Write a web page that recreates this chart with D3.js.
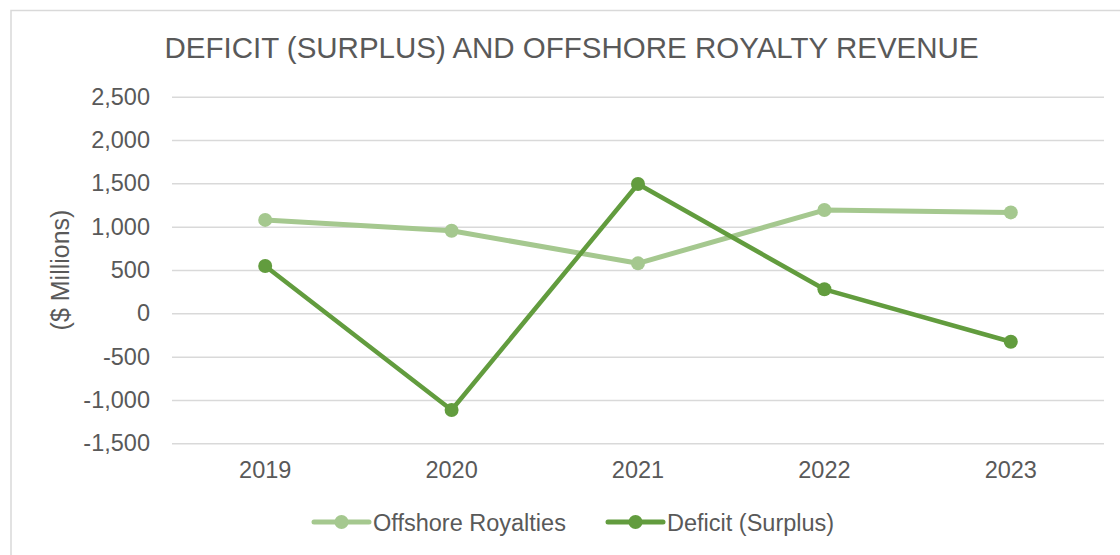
<!DOCTYPE html>
<html>
<head>
<meta charset="utf-8">
<script src="https://cdn.jsdelivr.net/npm/d3@7"></script>
<style>
  html, body { margin: 0; padding: 0; background: #fff; }
  svg { display: block; font-family: "Liberation Sans", Arial, sans-serif; }
</style>
</head>
<body>
<div id="chart"></div>
<script>
const years = ["2019", "2020", "2021", "2022", "2023"];
const offshoreRoyalties = [1078, 953, 577, 1192, 1165];
const deficitSurplus = [546, -1116, 1492, 277, -328];
const yTicks = [-1500, -1000, -500, 0, 500, 1000, 1500, 2000, 2500];
const seriesNames = ["Offshore Royalties", "Deficit (Surplus)"];
const seriesColors = ["#a5c88f", "#629c3e"];

const W = 1120, H = 555;
const margin = { top: 96.7, right: 16, bottom: 111.7, left: 172 };
const width = W - margin.left - margin.right;
const height = H - margin.top - margin.bottom;

const svg = d3.select("#chart").append("svg")
  .attr("width", W)
  .attr("height", H);

// chart frame
svg.append("rect")
  .attr("x", 11).attr("y", 10.5)
  .attr("width", W).attr("height", H)
  .attr("fill", "none")
  .attr("stroke", "#d9d9d9")
  .attr("stroke-width", 1.5);

svg.append("text")
  .attr("x", 571.5).attr("y", 58)
  .attr("text-anchor", "middle")
  .attr("fill", "#595959")
  .style("font-size", "29.5px")
  .text("DEFICIT (SURPLUS) AND OFFSHORE ROYALTY REVENUE");

const g = svg.append("g")
  .attr("transform", `translate(${margin.left},${margin.top})`);

const x = d3.scaleBand().domain(years).range([0, width]);
const y = d3.scaleLinear().domain([-1500, 2500]).range([height, 0]);

// gridlines
g.append("g")
  .call(d3.axisLeft(y).tickValues(yTicks).tickSize(-width).tickFormat(""))
  .call(a => a.select(".domain").remove())
  .call(a => a.selectAll("line").attr("stroke", "#d9d9d9").attr("stroke-width", 1.5));

// y tick labels (plain hyphen for negatives, as in the original)
const fmt = d3.format(",");
g.append("g")
  .call(d3.axisLeft(y).tickValues(yTicks).tickSize(0).tickPadding(22)
    .tickFormat(d => fmt(d).replace("\u2212", "-")))
  .call(a => a.select(".domain").remove())
  .call(a => a.selectAll("text")
    .attr("fill", "#595959")
    .style("font-size", "23.5px")
    .style("font-family", "'Liberation Sans', Arial, sans-serif"));

// x tick labels
g.append("g")
  .attr("transform", `translate(0,${height})`)
  .call(d3.axisBottom(x).tickSize(0).tickPadding(18))
  .call(a => a.select(".domain").remove())
  .call(a => a.selectAll("text")
    .attr("fill", "#595959")
    .style("font-size", "23.5px")
    .style("font-family", "'Liberation Sans', Arial, sans-serif"));

// y axis title
svg.append("text")
  .attr("transform", "translate(60,270) rotate(-90)")
  .attr("text-anchor", "middle")
  .attr("dominant-baseline", "central")
  .attr("fill", "#595959")
  .style("font-size", "25px")
  .text("($ Millions)");

const cx = d => x(d) + x.bandwidth() / 2;
const allSeries = [offshoreRoyalties, deficitSurplus];
const widths = [5, 4.5];

allSeries.forEach((vals, i) => {
  const pts = years.map((yr, j) => ({ yr, v: vals[j] }));
  g.append("path")
    .datum(pts)
    .attr("fill", "none")
    .attr("stroke", seriesColors[i])
    .attr("stroke-width", widths[i])
    .attr("stroke-linejoin", "round")
    .attr("d", d3.line().x(d => cx(d.yr)).y(d => y(d.v)));
  g.selectAll(null)
    .data(pts)
    .enter()
    .append("circle")
    .attr("cx", d => cx(d.yr))
    .attr("cy", d => y(d.v))
    .attr("r", 7)
    .attr("fill", seriesColors[i]);
});

// legend
const legendX = [314, 608];
const legendY = 522;
seriesNames.forEach((name, i) => {
  const lg = svg.append("g").attr("transform", `translate(${legendX[i]},${legendY})`);
  lg.append("line")
    .attr("x1", 0).attr("x2", 55)
    .attr("stroke", seriesColors[i])
    .attr("stroke-width", 5)
    .attr("stroke-linecap", "round");
  lg.append("circle").attr("cx", 27.5).attr("r", 7).attr("fill", seriesColors[i]);
  lg.append("text")
    .attr("x", 59).attr("y", 8.5)
    .attr("fill", "#595959")
    .style("font-size", "23.5px")
    .text(name);
});
</script>
</body>
</html>
